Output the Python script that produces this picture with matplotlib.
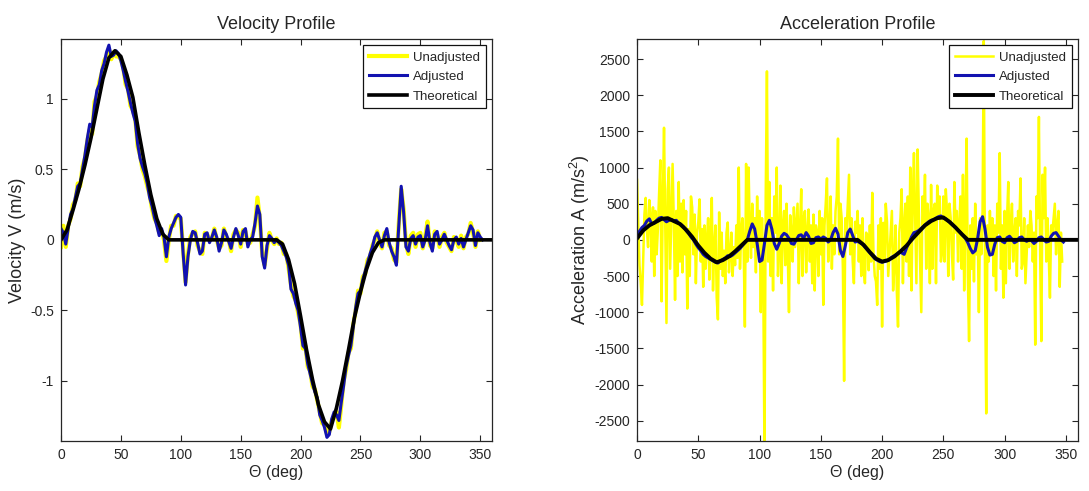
import matplotlib

matplotlib.use("Agg")
import matplotlib.pyplot as plt
import numpy as np
from matplotlib.ticker import FuncFormatter

plt.rcParams["font.family"] = ["Liberation Sans", "DejaVu Sans"]
plt.rcParams["mathtext.fontset"] = "custom"
plt.rcParams["mathtext.rm"] = "Liberation Sans"
plt.rcParams["mathtext.it"] = "Liberation Sans"

# ---- velocity data (m/s) ----
# theoretical curve sampled every 5 deg, 0..360
vel_theory = [
    0.0, 0.07, 0.21, 0.36, 0.53, 0.72, 0.93, 1.14, 1.29, 1.34,
    1.30, 1.17, 1.01, 0.76, 0.53, 0.32, 0.15, 0.04, 0.0,
    0.0, 0.0, 0.0, 0.0, 0.0, 0.0, 0.0, 0.0, 0.0,
    0.0, 0.0, 0.0, 0.0, 0.0, 0.0, 0.0, 0.0, 0.0,
    -0.03, -0.14, -0.31, -0.54, -0.78, -0.99, -1.17, -1.29, -1.34,
    -1.19, -1.00, -0.78, -0.55, -0.37, -0.21, -0.09, -0.02, 0.0,
    0.0, 0.0, 0.0, 0.0, 0.0, 0.0, 0.0, 0.0, 0.0,
    0.0, 0.0, 0.0, 0.0, 0.0, 0.0, 0.0, 0.0, 0.0,
]
# measured curves sampled every 2 deg
vel_unadj = [
    -0.05, 0.10, -0.05, 0.10, 0.15, 0.25, 0.28, 0.40, 0.38, 0.52,
    0.58, 0.70, 0.78, 0.75, 0.98, 1.02, 1.12, 1.18, 1.27, 1.30,
    1.35, 1.28, 1.33, 1.30, 1.30, 1.28, 1.22, 1.10, 1.07, 0.95,
    0.92, 0.86, 0.66, 0.60, 0.50, 0.45, 0.38, 0.32, 0.22, 0.15,
    0.12, 0.05, 0.06, 0.00, -0.15, 0.00, 0.10, 0.10, 0.17, 0.16,
    0.15, -0.08, -0.30, -0.10, 0.02, 0.05, 0.06, -0.04, -0.08, -0.10,
    0.05, 0.04, 0.00, 0.01, 0.08, 0.00, -0.06, -0.04, 0.08, 0.02,
    0.00, -0.08, 0.04, 0.07, 0.05, -0.05, 0.07, 0.06, -0.03, -0.02,
    0.04, 0.10, 0.30, 0.15, -0.10, -0.18, -0.06, 0.05, 0.00, -0.03,
    0.01, -0.03, -0.02, -0.10, -0.10, -0.20, -0.32, -0.40, -0.43, -0.52,
    -0.60, -0.77, -0.75, -0.90, -0.93, -1.04, -1.06, -1.14, -1.22, -1.30,
    -1.31, -1.37, -1.36, -1.28, -1.25, -1.22, -1.33, -1.17, -1.00, -0.92,
    -0.80, -0.77, -0.60, -0.50, -0.36, -0.38, -0.26, -0.24, -0.14, -0.12,
    -0.04, 0.00, 0.06, -0.02, -0.06, 0.05, 0.06, -0.04, -0.06, -0.14,
    -0.16, 0.12, 0.36, 0.22, -0.03, -0.10, 0.03, 0.05, -0.05, 0.04,
    0.05, -0.06, 0.02, 0.13, -0.04, -0.06, 0.06, 0.04, -0.05, 0.02,
    0.05, -0.02, -0.05, -0.08, 0.02, 0.00, -0.05, 0.03, -0.06, 0.02,
    0.04, 0.12, 0.05, -0.05, 0.06, 0.00,
]
vel_adj = [
    0.08, 0.05, -0.03, 0.08, 0.18, 0.22, 0.30, 0.38, 0.40, 0.50,
    0.60, 0.72, 0.82, 0.80, 0.95, 1.06, 1.10, 1.20, 1.25, 1.33,
    1.38, 1.30, 1.31, 1.34, 1.32, 1.27, 1.20, 1.12, 1.05, 0.97,
    0.90, 0.84, 0.68, 0.58, 0.52, 0.47, 0.40, 0.30, 0.24, 0.16,
    0.10, 0.03, 0.08, 0.02, -0.12, 0.02, 0.08, 0.12, 0.16, 0.18,
    0.16, -0.10, -0.32, -0.12, 0.00, 0.06, 0.05, -0.02, -0.10, -0.08,
    0.04, 0.05, -0.02, 0.02, 0.07, 0.02, -0.08, -0.02, 0.07, 0.04,
    -0.01, -0.06, 0.02, 0.08, 0.03, -0.03, 0.06, 0.08, -0.05, 0.00,
    0.02, 0.12, 0.24, 0.18, -0.12, -0.20, -0.04, 0.03, 0.01, -0.02,
    0.00, -0.02, -0.04, -0.08, -0.12, -0.18, -0.35, -0.38, -0.45, -0.50,
    -0.62, -0.75, -0.77, -0.88, -0.95, -1.02, -1.08, -1.12, -1.24, -1.28,
    -1.33, -1.40, -1.38, -1.27, -1.22, -1.24, -1.28, -1.15, -1.03, -0.90,
    -0.82, -0.75, -0.62, -0.48, -0.38, -0.36, -0.28, -0.22, -0.16, -0.10,
    -0.05, 0.02, 0.05, 0.00, -0.05, 0.03, 0.08, -0.02, -0.08, -0.12,
    -0.18, 0.10, 0.38, 0.20, -0.05, -0.08, 0.01, 0.03, -0.03, 0.02,
    0.03, -0.05, 0.00, 0.10, -0.02, -0.08, 0.04, 0.06, -0.03, 0.00,
    0.04, 0.00, -0.04, -0.07, 0.00, 0.02, -0.03, 0.01, -0.05, 0.00,
    0.05, 0.10, 0.07, -0.04, 0.05, 0.02, 0.00,
]

# ---- acceleration data (m/s^2) ----
# theoretical curve sampled every 5 deg, 0..360
acc_theory = [
    20, 130, 200, 245, 290, 300, 260, 220, 140, 40,
    -80, -180, -260, -310, -280, -230, -160, -80, 0,
    0, 0, 0, 0, 0, 0, 0, 0, 0,
    0, 0, 0, 0, 0, 0, 0, 0, 0,
    -70, -170, -260, -300, -280, -230, -160, -80, 20,
    110, 200, 260, 300, 310, 250, 170, 80, 0,
    0, 0, 0, 0, 0, 0, 0, 0, 0,
    0, 0, 0, 0, 0, 0, 0, 0, 0,
]
# raw differentiated signal, one sample per degree (0..347)
acc_unadj = [
    830, 200, -350, -600, -900, -250, 350, 580, 150, -100,
    550, 300, -300, 450, -500, 400, -200, 150, 650, 1100,
    -850, 500, 1550, 200, -1150, 700, 1000, -400, 300, 1050,
    250, -830, 400, -500, 800, -300, 500, -450, 550, -200,
    400, -950, 150, -500, 600, 450, -200, 350, -600, 100,
    250, 560, -300, 150, -650, 200, -400, 0, 300, -550,
    100, 580, -700, -100, 200, -800, -1100, 380, -400, 100,
    -500, -150, -600, 100, 240, -450, -200, 100, -500, -100,
    -350, 200, -250, 1000, -400, 100, 300, -100, -1200, 1050,
    -300, 1000, 200, -250, 500, -100, 300, -450, 600, -200,
    400, -1000, 300, -500, -3000, 600, 2330, -300, 800, -500,
    300, -700, 600, 100, 1000, -500, -150, 750, -600, 200,
    400, -350, 500, -200, -1000, 340, 100, -300, 450, -100,
    200, 500, -600, 150, 700, -500, 300, 400, -450, 100,
    420, -300, 200, -600, 350, -700, 200, 100, -500, 400,
    -200, 300, -900, 200, 500, 850, -300, 100, 600, -400,
    200, -200, 400, 600, 1400, -200, 500, 300, -400, -1950,
    300, 100, 500, 900, -200, 300, -300, -600, 250, 100,
    400, -300, 200, -500, 300, -400, -600, 100, 70, -420,
    200, -300, 650, -200, -500, -575, -900, 200, -400, 300,
    -1200, 235, -300, 500, 250, -500, -200, 100, 400, -700,
    -350, 200, -700, -1200, 100, 300, 700, -600, 200, 500,
    -300, 600, -500, 1000, -700, 500, 1200, 300, -600, 1250,
    400, -300, -1000, 600, 200, 900, -400, 500, 300, -600,
    760, -400, 400, 500, -600, 750, 300, 600, -300, -170,
    600, -300, 700, 400, -500, 500, 300, -200, -550, 800,
    100, 400, -300, 200, 600, -400, 900, -700, 300, 1400,
    -500, -1400, 200, -400, 300, -575, 500, -200, 100, -1000,
    300, -200, 400, 2750, -500, -2400, 200, -300, 400, -200,
    300, -500, 200, -700, 500, 100, 1200, -400, 200, -800,
    400, -600, 300, 800, -400, 200, 500, -300, 100, 300,
    -500, 400, 200, 850, -400, -300, 300, -600, -200, 200,
    -100, 400, 200, -300, 100, -1450, 600, 300, 1700, -200,
    -1400, 900, 300, 1000, -300, 300, -200, -800, 200, 100,
    300, 500, -200, 200, 400, -650, 100, -300,
]
# filtered signal, one sample every 2 deg (0..348)
acc_adj = [
    50, 120, 170, 200, 260, 290, 220, 230, 270, 300,
    310, 280, 250, 270, 280, 260, 270, 230, 210, 180,
    130, 90, 40, 0, -60, -110, -150, -200, -230, -250,
    -270, -290, -310, -320, -290, -270, -250, -220, -230, -210,
    -180, -150, -120, -80, -40, 0, 120, 220, 150, -50,
    -300, -280, -50, 200, 270, 150, -50, -130, -50, 50,
    90, 70, 20, -50, -60, 0, 60, 70, 20, 100,
    50, -50, -40, 30, 40, 10, 40, 20, -30, 0,
    100, 160, 80, -150, -230, -80, 100, 150, 60, -30,
    -20, -40, -60, -100, -140, -180, -220, -260, -280, -300,
    -310, -300, -290, -270, -240, -220, -200, -170, -180, -200,
    -110, -40, 40, 100, 110, 130, 160, 190, 220, 250,
    270, 280, 300, 320, 330, 300, 290, 260, 230, 200,
    170, 130, 100, 60, 20, -40, -120, -180, -150, 20,
    250, 320, 150, -100, -210, -200, -60, 30, 40, -20,
    -40, 30, 50, 10, -40, -20, 30, 40, 0, -20,
    0, -10, -50, -20, 30, 40, 0, -30, -20, 50,
    90, 100, 50, 0, -30,
]

theta_theory = np.arange(0, 361, 5)
theta_vel_unadj = np.arange(len(vel_unadj)) * 2
theta_vel_adj = np.arange(len(vel_adj)) * 2
theta_acc_unadj = np.arange(len(acc_unadj))
theta_acc_adj = np.arange(len(acc_adj)) * 2

YELLOW = "#ffff00"
BLUE = "#1212b0"
BLACK = "#000000"
AX_COLOR = "#262626"


def style_axes(ax):
    ax.set_xlim(0, 360)
    ax.set_xticks(np.arange(0, 351, 50))
    ax.tick_params(direction="in", top=True, right=True, length=4,
                   width=0.8, labelsize=10, colors=AX_COLOR, pad=5)
    for sp in ax.spines.values():
        sp.set_linewidth(0.9)
        sp.set_color(AX_COLOR)
    ax.yaxis.set_major_formatter(FuncFormatter(lambda v, p: f"{v:g}"))
    ax.set_xlabel("Θ (deg)", fontsize=11.5, color=AX_COLOR, labelpad=2)
    leg = ax.legend(loc="upper right", fontsize=9.5, frameon=True,
                    fancybox=False, framealpha=1, edgecolor="#111111",
                    handlelength=2.9, handletextpad=0.4, labelspacing=0.55,
                    borderpad=0.45, borderaxespad=0.5)
    leg.get_frame().set_linewidth(0.9)
    for t in leg.get_texts():
        t.set_color(AX_COLOR)


fig = plt.figure(figsize=(10.89, 4.91), dpi=100)
ax_v = fig.add_axes([0.056, 0.102, 0.396, 0.819])
ax_a = fig.add_axes([0.585, 0.102, 0.405, 0.819])

# velocity panel
ax_v.plot(theta_vel_unadj, vel_unadj, color=YELLOW, lw=3.0, label="Unadjusted")
ax_v.plot(theta_vel_adj, vel_adj, color=BLUE, lw=2.2, label="Adjusted")
ax_v.plot(theta_theory, vel_theory, color=BLACK, lw=2.6, label="Theoretical")
ax_v.set_ylim(-1.425, 1.425)
ax_v.set_yticks([-1, -0.5, 0, 0.5, 1])
ax_v.set_ylabel("Velocity V (m/s)", fontsize=13, color=AX_COLOR, labelpad=3)
ax_v.set_title("Velocity Profile", fontsize=13, color=AX_COLOR, pad=7)
style_axes(ax_v)

# acceleration panel
ax_a.plot(theta_acc_unadj, acc_unadj, color=YELLOW, lw=1.8, label="Unadjusted")
ax_a.plot(theta_acc_adj, acc_adj, color=BLUE, lw=2.2, label="Adjusted")
ax_a.plot(theta_theory, acc_theory, color=BLACK, lw=2.8, label="Theoretical")
ax_a.set_ylim(-2780, 2780)
ax_a.set_yticks(np.arange(-2500, 2501, 500))
ax_a.set_ylabel("Acceleration A (m/s$^2$)", fontsize=13, color=AX_COLOR,
                labelpad=2)
ax_a.set_title("Acceleration Profile", fontsize=13, color=AX_COLOR, pad=7)
style_axes(ax_a)

fig.savefig("out.png", dpi=100)
